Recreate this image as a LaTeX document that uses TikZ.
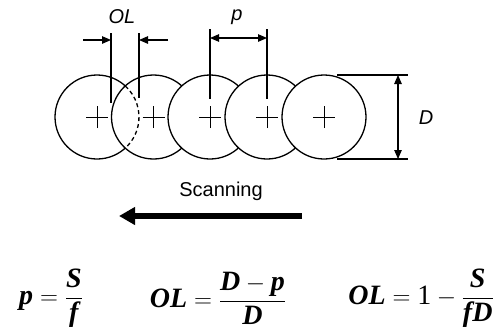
\documentclass[tikz,border=0pt]{standalone}
\usepackage{fontspec}
\setsansfont{Liberation Sans}
\newfontfamily\timesf{Liberation Serif}
\usetikzlibrary{arrows.meta}
\newcommand\bivar[1]{\mbox{\timesf\bfseries\itshape #1}}
\newcommand\beq{\mathrel{\mathbf{=}}}
\tikzset{
  circ/.style={circle,draw,line width=1.3pt,minimum size=84pt,inner sep=0pt},
  wcirc/.style={circ,fill=white},
  dimline/.style={line width=1.1pt},
  dimarrow/.style={line width=1.1pt,{Triangle[length=9pt,width=7.5pt]}-{Triangle[length=9pt,width=7.5pt]}},
  onearrow/.style={line width=1.1pt,-{Triangle[length=9pt,width=7.5pt]}},
  crossline/.style={line width=1pt},
  lbl/.style={font=\sffamily\itshape\fontsize{20}{23}\selectfont,inner sep=0pt},
  fml/.style={font=\fontsize{28}{32}\selectfont,inner sep=0pt}
}
\begin{document}
\begin{tikzpicture}[x=1pt,y=-1pt]
\useasboundingbox (0,0) rectangle (502,335);
% circles
\node[circ] (c1) at (97,117) {};
\node[wcirc] (c2) at (153.5,117) {};
\draw[line width=1.3pt,dash pattern=on 4pt off 3pt] (c1) ++(-47.7:42) arc[start angle=-47.7,end angle=47.7,radius=42];
\node[wcirc] (c3) at (210,117) {};
\node[wcirc] (c4) at (267,117) {};
\node[wcirc] (c5) at (324,117) {};
% crosses
\foreach \c in {c1,c2,c3,c4,c5}{
  \draw[crossline] ([xshift=-11pt]\c.center) -- ([xshift=11pt]\c.center);
  \draw[crossline] ([yshift=-11pt]\c.center) -- ([yshift=11pt]\c.center);
}
% OL dimension
\coordinate (olLtop) at (111,33);
\coordinate (olLbot) at (111,103);
\coordinate (olRtop) at (139,33);
\coordinate (olRbot) at (139,98);
\draw[dimline] (olLtop) -- (olLbot);
\draw[dimline] (olRtop) -- (olRbot);
\coordinate (olLa) at (83,40);
\coordinate (olLb) at (111,40);
\coordinate (olRa) at (168,40);
\coordinate (olRb) at (139,40);
\draw[onearrow] (olLa) -- (olLb);
\draw[onearrow] (olRa) -- (olRb);
\node[lbl] (ol) at (122,17) {OL};
% p dimension
\coordinate (pLtop) at (210,29);
\coordinate (pLbot) at (210,99);
\coordinate (pRtop) at (267,29);
\coordinate (pRbot) at (267,99);
\draw[dimline] (pLtop) -- (pLbot);
\draw[dimline] (pRtop) -- (pRbot);
\coordinate (pa) at (210,38);
\coordinate (pb) at (267,38);
\draw[dimarrow] (pa) -- (pb);
\node[lbl] (p) at (237,17) {p};
% D dimension
\coordinate (dTa) at (337,75);
\coordinate (dTb) at (408,75);
\coordinate (dBa) at (337,159);
\coordinate (dBb) at (408,159);
\draw[dimline] (dTa) -- (dTb);
\draw[dimline] (dBa) -- (dBb);
\coordinate (dt) at (398,75);
\coordinate (db) at (398,159);
\draw[dimarrow] (dt) -- (db);
\node[lbl] (d) at (426,118) {D};
% scanning
\node[font=\sffamily\fontsize{20}{24}\selectfont,inner sep=0pt] (scan) at (221,191) {Scanning};
\coordinate (sa) at (302,216);
\coordinate (sb) at (119,216);
\draw[line width=5.5pt,-{Triangle[length=16pt,width=17pt]}] (sa) -- (sb);
% formulas
\node[fml] (f1) at (51,298) {$\displaystyle \bivar{p} \beq \frac{\bivar{S}}{\bivar{f}}$};
\node[fml] (f2) at (218,298) {$\displaystyle \bivar{OL} \beq \frac{\bivar{D} - \bivar{p}}{\bivar{D}}$};
\node[fml] (f3) at (421,298) {$\displaystyle \bivar{OL} \beq \mbox{\timesf 1} - \frac{\bivar{S}}{\bivar{fD}}$};
\end{tikzpicture}
\end{document}
